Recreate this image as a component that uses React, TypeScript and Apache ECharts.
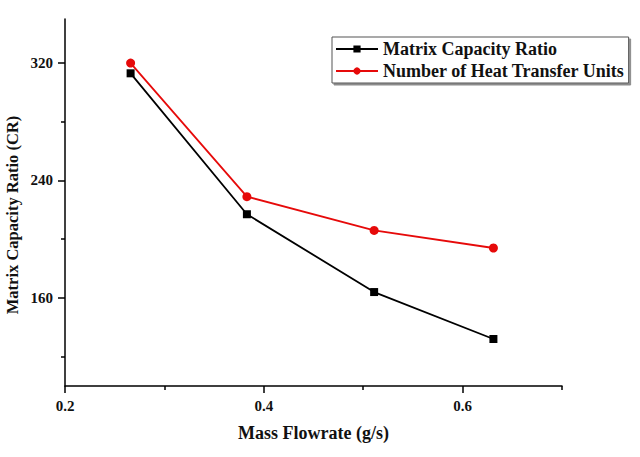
import React, { useEffect, useRef } from "react";
import * as echarts from "echarts";

const massFlow = [0.266, 0.383, 0.511, 0.631];
const capacityRatio = [313, 217, 164, 132];
const heatTransferUnits = [320, 229, 206, 194];

const xMajorTicks = [0.2, 0.4, 0.6];
const xMinorTicks = [0.3, 0.5, 0.7];
const yMajorTicks = [160, 240, 320];
const yMinorTicks = [120, 200, 280];

const seriesNames = ["Matrix Capacity Ratio", "Number of Heat Transfer Units"];
const xTitle = "Mass Flowrate (g/s)";
const yTitle = "Matrix Capacity Ratio (CR)";

const FONT = "'Liberation Serif', 'Times New Roman', serif";

export default function App() {
  const ref = useRef<HTMLDivElement>(null);

  useEffect(() => {
    if (!ref.current) return;
    const chart = echarts.init(ref.current, undefined, { renderer: "svg" });
    const axisLine = { show: true, lineStyle: { color: "#000", width: 1.5 } };
    const labelStyle = {
      color: "#111",
      fontFamily: FONT,
      fontWeight: "bold" as const,
      fontSize: 15,
    };
    chart.setOption({
      animation: false,
      backgroundColor: "#fff",
      grid: { left: 65, right: 78, top: 19, bottom: 71, containLabel: false },
      xAxis: [
        {
          type: "value",
          min: 0.2,
          max: 0.7,
          axisLine,
          splitLine: { show: false },
          axisTick: {
            show: true,
            inside: false,
            length: 7,
            customValues: xMajorTicks,
            lineStyle: { color: "#000", width: 1.5 },
          },
          axisLabel: { ...labelStyle, margin: 12, customValues: xMajorTicks },
          name: xTitle,
          nameLocation: "middle",
          nameGap: 38,
          nameTextStyle: {
            color: "#111",
            fontFamily: FONT,
            fontWeight: "bold",
            fontSize: 18,
            verticalAlign: "top",
          },
        },
        {
          type: "value",
          min: 0.2,
          max: 0.7,
          position: "bottom",
          axisLine: { show: false },
          splitLine: { show: false },
          axisTick: {
            show: true,
            length: 4,
            customValues: xMinorTicks,
            lineStyle: { color: "#000", width: 1.5 },
          },
          axisLabel: { show: false },
        },
      ],
      yAxis: [
        {
          type: "value",
          min: 100,
          max: 350,
          axisLine,
          splitLine: { show: false },
          axisTick: {
            show: true,
            length: 7,
            customValues: yMajorTicks,
            lineStyle: { color: "#000", width: 1.5 },
          },
          axisLabel: { ...labelStyle, margin: 12, customValues: yMajorTicks },
        },
        {
          type: "value",
          min: 100,
          max: 350,
          position: "left",
          axisLine: { show: false },
          splitLine: { show: false },
          axisTick: {
            show: true,
            length: 4,
            customValues: yMinorTicks,
            lineStyle: { color: "#000", width: 1.5 },
          },
          axisLabel: { show: false },
        },
      ],
      legend: {
        orient: "vertical",
        left: 332,
        top: 37,
        padding: [3, 4, 3, 3],
        itemGap: 4,
        itemWidth: 42,
        itemHeight: 9,
        backgroundColor: "#fff",
        borderColor: "#555",
        borderWidth: 1,
        shadowColor: "rgba(0,0,0,0.45)",
        shadowBlur: 0,
        shadowOffsetX: 2,
        shadowOffsetY: 2,
        textStyle: {
          color: "#111",
          fontFamily: FONT,
          fontWeight: "bold",
          fontSize: 18,
        },
        data: seriesNames,
      },
      graphic: [
        {
          type: "text",
          x: 12,
          y: 215,
          rotation: Math.PI / 2,
          style: {
            text: yTitle,
            fill: "#111",
            fontFamily: FONT,
            fontWeight: "bold",
            fontSize: 16.5,
            textAlign: "center",
            textVerticalAlign: "middle",
          },
        },
      ],
      series: [
        {
          name: seriesNames[0],
          type: "line",
          data: massFlow.map((x, i) => [x, capacityRatio[i]]),
          symbol: "rect",
          symbolSize: 8,
          itemStyle: { color: "#000" },
          lineStyle: { color: "#000", width: 1.8 },
        },
        {
          name: seriesNames[1],
          type: "line",
          data: massFlow.map((x, i) => [x, heatTransferUnits[i]]),
          symbol: "circle",
          symbolSize: 9,
          itemStyle: { color: "#e60a0a" },
          lineStyle: { color: "#e60a0a", width: 1.8 },
        },
      ],
    });
    return () => chart.dispose();
  }, []);

  return (
    <div
      ref={ref}
      style={{ position: "fixed", left: 0, top: 0, width: 640, height: 457 }}
    />
  );
}
